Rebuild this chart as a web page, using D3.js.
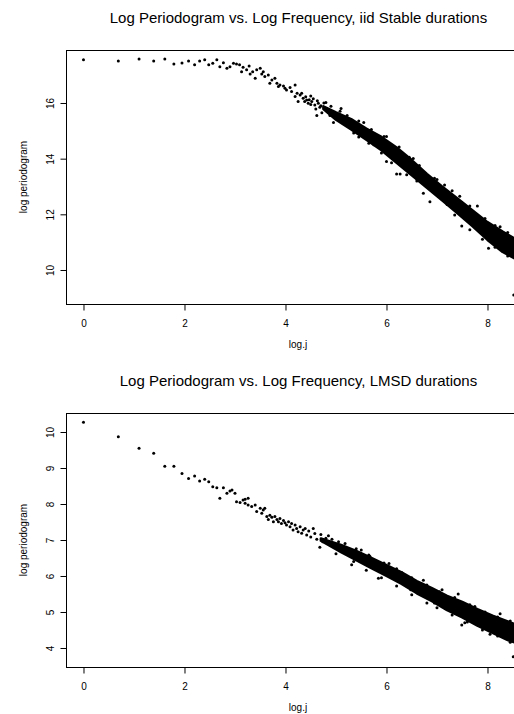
<!DOCTYPE html>
<html lang="en">
  <head>
    <meta charset="UTF-8" />
    <title>Log Periodogram vs. Log Frequency</title>
    <script src="https://cdn.jsdelivr.net/npm/d3@7/dist/d3.min.js"></script>
    <style>
      body { margin: 0; background: #fff; }
      svg { display: block; }
      text { font-family: "Liberation Sans", Arial, Helvetica, sans-serif; fill: #000; }
    </style>
  </head>
  <body>
    <script>
      // ---- data ----
      var xTicks = [0, 2, 4, 6, 8];
      var yTicksTop = [10, 12, 14, 16];
      var yTicksBottom = [4, 5, 6, 7, 8, 9, 10];

      // iid Stable: single, readable points (log j, log periodogram)
      var stableX = [0.00, 0.69, 1.10, 1.39, 1.61, 1.79, 1.95, 2.08, 2.20, 2.30, 2.40, 2.48, 2.56, 2.64, 2.70, 2.77,
                     2.84, 2.90, 2.97, 3.03, 3.09, 3.13, 3.16, 3.23, 3.28, 3.30, 3.35, 3.40, 3.43, 3.50, 3.53, 3.56,
                     3.59, 3.66, 3.69, 3.73, 3.79, 3.83, 3.86, 3.89, 3.96, 3.99, 4.02, 4.09, 4.12, 4.19, 4.19, 4.23,
                     4.25, 4.29, 4.35, 4.42, 4.45, 4.52, 4.58, 4.65, 4.68, 4.78,
                     4.32, 4.38, 4.40, 4.47, 4.50, 4.55, 4.60, 4.63, 4.70, 4.72, 4.76, 4.82, 4.88, 4.90, 4.97, 5.05,
                     5.08, 5.15, 5.22];
      var stableY = [17.55, 17.51, 17.58, 17.51, 17.58, 17.40, 17.44, 17.51, 17.37, 17.51, 17.55, 17.37, 17.43, 17.55, 17.30, 17.45,
                     17.25, 17.30, 17.43, 17.40, 17.37, 17.12, 17.28, 17.19, 17.33, 17.04, 17.12, 16.89, 17.19, 17.25, 17.04, 17.12,
                     16.95, 17.01, 16.71, 16.83, 16.89, 16.71, 16.59, 16.65, 16.61, 16.53, 16.47, 16.56, 16.41, 16.65, 16.23, 16.35,
                     16.05, 16.29, 16.17, 16.11, 15.99, 16.05, 15.93, 15.99, 15.85, 15.81,
                     16.35, 16.05, 16.22, 16.12, 15.95, 16.15, 15.78, 16.08, 15.90, 15.65, 16.00, 15.75, 15.55, 15.88, 15.62, 15.45,
                     15.70, 15.30, 15.55];
      // iid Stable: scattered points round the dense band
      var stableOutX = [4.50, 4.62, 4.80, 4.95, 5.10, 5.35, 5.55, 5.75, 6.00, 6.00, 6.13, 6.20, 6.27, 6.53, 6.73, 6.86,
                        7.00, 7.30, 7.49, 7.80, 8.02, 8.25, 8.52,
                        5.45, 5.70, 5.95, 6.25, 6.45, 6.65, 6.95, 7.15, 7.45, 7.65, 7.95, 8.15, 8.40,
                        5.45, 5.65, 5.90, 6.10, 6.40, 6.60, 6.95, 7.20, 7.35, 7.65, 7.90, 8.15, 8.40];
      var stableOutY = [16.25, 15.55, 16.02, 15.30, 15.80, 14.92, 15.30, 14.50, 14.80, 13.90, 14.43, 13.45, 13.45, 14.01, 12.76, 12.45,
                        13.25, 12.85, 11.58, 12.30, 10.78, 11.55, 9.10,
                        15.35, 15.05, 14.80, 14.42, 14.05, 13.75, 13.30, 13.05, 12.65, 12.30, 11.85, 11.60, 11.35,
                        14.78, 14.55, 14.20, 13.85, 13.42, 13.20, 12.78, 12.35, 11.98, 11.45, 11.10, 10.82, 10.50];
      // iid Stable: dense band (lower / upper edge)
      var stableBandX  = [4.75, 5.00, 5.30, 5.60, 5.90, 6.20, 6.50, 6.80, 7.10, 7.40, 7.70, 8.00, 8.30, 8.66];
      var stableBandLo = [15.78, 15.40, 15.05, 14.68, 14.30, 13.85, 13.40, 12.95, 12.50, 12.05, 11.58, 11.08, 10.65, 10.30];
      var stableBandHi = [15.88, 15.66, 15.42, 15.08, 14.78, 14.40, 13.95, 13.45, 13.00, 12.58, 12.15, 11.72, 11.38, 11.00];

      // LMSD: single, readable points
      var lmsdX = [0.00, 0.69, 1.10, 1.39, 1.61, 1.79, 1.95, 2.08, 2.20, 2.30, 2.40, 2.48, 2.56, 2.64, 2.70, 2.77,
                   2.84, 2.90, 2.94, 3.00, 3.03, 3.10, 3.16, 3.20, 3.20, 3.26, 3.26, 3.33, 3.40, 3.43, 3.50, 3.53,
                   3.56, 3.59, 3.63, 3.66, 3.69, 3.73, 3.76, 3.79, 3.83, 3.86, 3.89, 3.92, 3.96, 3.99, 4.02, 4.06,
                   4.09, 4.12, 4.15, 4.19, 4.22, 4.25, 4.29, 4.32, 4.35, 4.39, 4.42,
                   4.46, 4.50, 4.58, 4.62, 4.70, 4.74, 4.80, 4.88, 4.92, 5.00, 5.05, 5.12];
      var lmsdY = [10.27, 9.87, 9.55, 9.41, 9.05, 9.05, 8.85, 8.71, 8.78, 8.64, 8.69, 8.62, 8.48, 8.45, 8.16, 8.45,
                   8.30, 8.36, 8.39, 8.30, 8.06, 8.04, 8.11, 8.02, 8.13, 8.16, 7.97, 7.93, 7.97, 7.79, 7.88, 7.74,
                   7.83, 7.88, 7.65, 7.57, 7.69, 7.63, 7.51, 7.65, 7.57, 7.51, 7.60, 7.46, 7.54, 7.48, 7.42, 7.51,
                   7.37, 7.46, 7.28, 7.42, 7.32, 7.23, 7.37, 7.19, 7.28, 7.32, 7.14,
                   7.25, 7.08, 7.18, 7.02, 7.15, 6.95, 7.05, 6.88, 7.02, 6.80, 6.95, 6.70];
      var lmsdOutX = [4.55, 4.68, 4.85, 5.00, 5.18, 5.31, 5.50, 5.67, 5.84, 6.05, 6.30, 6.48, 6.73, 6.95, 7.10, 7.42,
                      7.49, 7.55, 7.75, 8.05, 8.25, 8.51,
                      5.40, 5.65, 5.95, 6.20, 6.50, 6.80, 7.05, 7.35, 7.65, 7.95, 8.20, 8.45,
                      5.35, 5.60, 5.90, 6.20, 6.50, 6.80, 7.00, 7.30, 7.60, 7.90, 8.20, 8.45];
      var lmsdOutY = [7.32, 6.80, 7.12, 6.62, 6.90, 6.31, 6.72, 6.55, 5.94, 6.35, 6.10, 5.62, 5.88, 5.25, 5.62, 5.50,
                      4.64, 4.70, 5.15, 4.38, 4.95, 3.76,
                      6.76, 6.58, 6.36, 6.20, 5.95, 5.75, 5.56, 5.40, 5.20, 5.00, 4.86, 4.75,
                      6.40, 6.16, 5.95, 5.72, 5.48, 5.25, 5.12, 4.92, 4.72, 4.50, 4.33, 4.16];
      var lmsdBandX  = [4.70, 5.10, 5.40, 5.70, 6.00, 6.30, 6.60, 6.90, 7.20, 7.50, 7.80, 8.10, 8.40, 8.66];
      var lmsdBandLo = [6.98, 6.66, 6.44, 6.22, 6.00, 5.78, 5.52, 5.30, 5.05, 4.85, 4.62, 4.42, 4.22, 4.10];
      var lmsdBandHi = [7.04, 6.86, 6.70, 6.50, 6.30, 6.10, 5.86, 5.66, 5.45, 5.28, 5.08, 4.90, 4.74, 4.60];

      var w = 514, h = 714;
      var svg = d3.select("body").append("svg")
        .attr("width", w)
        .attr("height", h);

      function zip(a, b) {
        return a.map(function(d, i) { return [d, b[i]]; });
      }

      function panel(opt) {
        var top = opt.top, bottom = opt.top + 254;
        var left = 66, right = 538;

        var xScale = d3.scaleLinear().domain([-0.3465, 9.0]).range([left, right]);
        var yScale = d3.scaleLinear().domain(opt.yDomain).range([bottom, top]);

        var g = svg.append("g");

        // title
        g.append("text")
          .attr("x", 298.5)
          .attr("y", top - 27)
          .attr("text-anchor", "middle")
          .style("font-size", "15px")
          .text(opt.title);

        // band where the points overlap
        var area = d3.area()
          .x(function(d) { return xScale(d[0]); })
          .y0(function(d) { return yScale(d[1]); })
          .y1(function(d) { return yScale(d[2]); });

        var band = opt.bandX.map(function(d, i) { return [d, opt.bandLo[i], opt.bandHi[i]]; });
        g.append("path")
          .datum(band)
          .attr("d", area)
          .attr("fill", "#000")
          .attr("stroke", "#000")
          .attr("stroke-width", 2.5)
          .attr("stroke-linejoin", "round");

        g.selectAll("circle.pt")
          .data(zip(opt.xs, opt.ys).concat(zip(opt.outX, opt.outY)))
          .enter()
          .append("circle")
          .attr("class", "pt")
          .attr("cx", function(d) { return xScale(d[0]); })
          .attr("cy", function(d) { return yScale(d[1]); })
          .attr("r", 1.5)
          .attr("fill", "#000");

        // box
        g.append("rect")
          .attr("x", left + 0.5)
          .attr("y", top + 0.5)
          .attr("width", right - left)
          .attr("height", bottom - top)
          .attr("fill", "none")
          .attr("stroke", "#000")
          .attr("stroke-width", 1);

        var xAxis = d3.axisBottom(xScale)
          .tickValues(xTicks)
          .tickSize(6)
          .tickPadding(9.5)
          .tickFormat(d3.format("d"));

        var xg = g.append("g")
          .attr("transform", "translate(0," + (bottom + 0.5) + ")")
          .call(xAxis);
        xg.select(".domain").remove();
        xg.selectAll("text").style("font-size", "10px").style("font-family", null);

        var yAxis = d3.axisLeft(yScale)
          .tickValues(opt.yTicks)
          .tickSize(6)
          .tickFormat(d3.format("d"));

        var yg = g.append("g")
          .attr("transform", "translate(" + (left + 0.5) + ",0)")
          .call(yAxis);
        yg.select(".domain").remove();
        yg.selectAll("text")
          .attr("x", 0)
          .attr("y", -13)
          .attr("dy", null)
          .attr("transform", "rotate(-90)")
          .attr("text-anchor", "middle")
          .style("font-size", "10px")
          .style("font-family", null);
        svg.selectAll(".tick line").attr("stroke", "#000");

        g.append("text")
          .attr("x", 298)
          .attr("y", bottom + 44)
          .attr("text-anchor", "middle")
          .style("font-size", "10px")
          .text("log.j");

        g.append("text")
          .attr("transform", "translate(27," + ((top + bottom) / 2) + ") rotate(-90)")
          .attr("text-anchor", "middle")
          .style("font-size", "10px")
          .text("log periodogram");
      }

      panel({
        top: 50,
        yDomain: [8.778, 17.904],
        yTicks: yTicksTop,
        title: "Log Periodogram vs. Log Frequency, iid Stable durations",
        xs: stableX, ys: stableY,
        outX: stableOutX, outY: stableOutY,
        bandX: stableBandX, bandLo: stableBandLo, bandHi: stableBandHi
      });

      panel({
        top: 413,
        yDomain: [3.472, 10.528],
        yTicks: yTicksBottom,
        title: "Log Periodogram vs. Log Frequency, LMSD durations",
        xs: lmsdX, ys: lmsdY,
        outX: lmsdOutX, outY: lmsdOutY,
        bandX: lmsdBandX, bandLo: lmsdBandLo, bandHi: lmsdBandHi
      });
    </script>
  </body>
</html>
